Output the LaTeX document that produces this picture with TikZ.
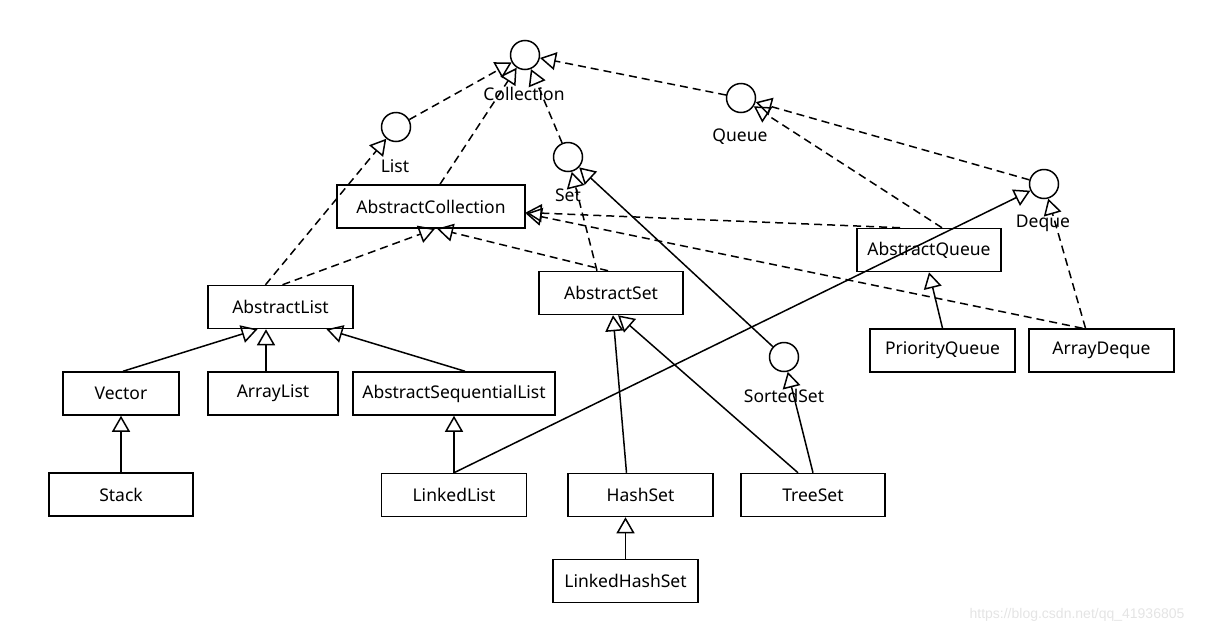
\documentclass[tikz,border=0pt]{standalone}
\usepackage{fontspec}
\setmainfont{Noto Sans}
\newfontfamily\wmfont{Liberation Sans}
\usepackage{tikz}
\usetikzlibrary{arrows.meta}
\definecolor{wmark}{RGB}{228,228,228}
\tikzset{
	cls/.style={draw, line width=1.5pt, minimum height=43pt, inner sep=0pt, font=\fontsize{17.5}{20}\selectfont},
	ifc/.style={draw, circle, line width=1.5pt, minimum size=29pt, inner sep=0pt},
	ifcname/.style={inner sep=0pt, font=\fontsize{17.5}{20}\selectfont},
	impl/.style={line width=1.5pt, dash pattern=on 8pt off 5pt, -{Triangle[open, length=16pt, width=18pt]}},
	inh/.style={line width=1.5pt, -{Triangle[open, length=16pt, width=18pt]}}
}

\begin{document}
\begin{tikzpicture}[x=1pt, y=-1pt]
	\useasboundingbox (0,0) rectangle (1209,635);
	\node[ifc] (coll) at (525,55) {};
	\node[ifc] (list) at (396,127) {};
	\node[ifc] (set) at (568,157) {};
	\node[ifc] (queue) at (741,98) {};
	\node[ifc] (deque) at (1044,184) {};
	\node[ifc] (sset) at (784,357) {};
	\node[ifcname] (collname) at (524,94) {Collection};
	\node[ifcname] (listname) at (395,166) {List};
	\node[ifcname] (setname) at (568,195) {Set};
	\node[ifcname] (queuename) at (740,137) {Queue};
	\node[ifcname] (dequename) at (1043,223) {Deque};
	\node[ifcname] (ssetname) at (784,396) {SortedSet};
	\node[cls, minimum width=188pt] (acoll) at (431,206.5) {AbstractCollection};
	\node[cls, minimum width=145pt] (alist) at (280.5,307) {AbstractList};
	\node[cls, minimum width=144pt] (aset) at (611,293) {AbstractSet};
	\node[cls, minimum width=144pt] (aqueue) at (929,250) {AbstractQueue};
	\node[cls, minimum width=116pt] (vector) at (121,393.5) {Vector};
	\node[cls, minimum width=130pt] (arraylist) at (273,393.5) {ArrayList};
	\node[cls, minimum width=202pt] (aslist) at (454,393.5) {AbstractSequentialList};
	\node[cls, minimum width=144pt] (stack) at (121,494.5) {Stack};
	\node[cls, minimum width=145pt] (llist) at (454,495) {LinkedList};
	\node[cls, minimum width=145pt] (hset) at (640.5,495) {HashSet};
	\node[cls, minimum width=144pt] (tset) at (813,495) {TreeSet};
	\node[cls, minimum width=145pt] (lhset) at (625.5,581) {LinkedHashSet};
	\node[cls, minimum width=145pt] (pqueue) at (942.5,350.5) {PriorityQueue};
	\node[cls, minimum width=145pt] (adeque) at (1101.5,350.5) {ArrayDeque};
	\node[text=wmark, font=\wmfont\fontsize{14}{16}\selectfont] (wm) at (1077,615) {https://blog.csdn.net/qq\_41936805};
	\draw[impl] (list) -- (coll);
	\draw[impl] ([xshift=9pt]acoll.north) -- (coll);
	\draw[impl] (set) -- (coll);
	\draw[impl] (queue) -- (coll);
	\draw[impl] ([xshift=-15pt]alist.north) -- (list);
	\draw[impl] ([xshift=2pt]alist.north) -- ([xshift=4pt]acoll.south);
	\draw[impl] ([xshift=-3pt]aset.north) -- ([xshift=6pt]acoll.south);
	\draw[impl] ([xshift=-14pt]aset.north) -- (set);
	\draw[impl] ([xshift=-29pt]aqueue.north) -- ([yshift=-6pt]acoll.east);
	\draw[impl] ([xshift=13pt]aqueue.north) -- (queue);
	\draw[impl] (deque) -- (queue);
	\draw[impl] ([xshift=-19pt]adeque.north) -- ([yshift=-7pt]acoll.east);
	\draw[impl] ([xshift=-16pt]adeque.north) -- (deque);
	\draw[inh] (pqueue.north) -- (aqueue.south);
	\draw[inh] (llist.north) -- (deque);
	\draw[inh] ([xshift=2pt]vector.north) -- ([xshift=-23pt]alist.south);
	\draw[inh] ([xshift=-7pt]arraylist.north) -- ([xshift=-7pt]arraylist.north |- alist.south);
	\draw[inh] ([xshift=11pt]aslist.north) -- ([xshift=46pt]alist.south);
	\draw[inh] (stack.north) -- (vector.south);
	\draw[inh] (llist.north) -- (aslist.south);
	\draw[inh] ([xshift=-14pt]hset.north) -- ([xshift=2pt]aset.south);
	\draw[inh] ([xshift=-15pt]tset.north) -- ([xshift=7pt]aset.south);
	\draw[inh] (tset.north) -- (sset);
	\draw[inh] (sset) -- (set);
	\draw[inh] (lhset.north) -- (lhset.north |- hset.south);
\end{tikzpicture}
\end{document}
